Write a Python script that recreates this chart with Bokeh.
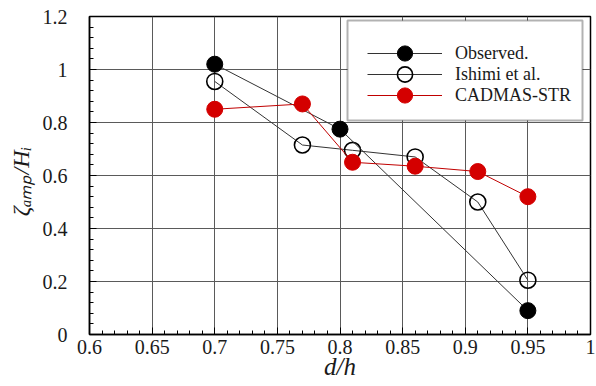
from bokeh.plotting import figure
from bokeh.models import FixedTicker, Legend, LegendItem, Range1d, BoxAnnotation
from bokeh.embed import file_html
from bokeh.resources import INLINE
import numpy as np

# ---- data ----
obs_x = [0.70, 0.80, 0.95]
obs_y = [1.02, 0.775, 0.09]

ishimi_x = [0.70, 0.77, 0.81, 0.86, 0.91, 0.95]
ishimi_y = [0.955, 0.715, 0.695, 0.67, 0.50, 0.205]

cadmas_x = [0.70, 0.77, 0.81, 0.86, 0.91, 0.95]
cadmas_y = [0.85, 0.87, 0.65, 0.635, 0.615, 0.52]

x_ticks = [0.6, 0.65, 0.7, 0.75, 0.8, 0.85, 0.9, 0.95, 1.0]
x_tick_labels = ["0.6", "0.65", "0.7", "0.75", "0.8", "0.85", "0.9", "0.95", "1"]
y_ticks = [0.0, 0.2, 0.4, 0.6, 0.8, 1.0, 1.2]
y_tick_labels = ["0", "0.2", "0.4", "0.6", "0.8", "1", "1.2"]

series_names = ["Observed.", "Ishimi et al.", "CADMAS-STR"]
x_title = "d/h"
y_title = "\u03b6\u2090\u2098\u209a/H\u1d62\u00a0\u00a0"

FONT = "Liberation Serif"
RED = "#d40000"

p = figure(width=596, height=386, output_backend="svg", toolbar_location=None,
           x_range=Range1d(0.6, 1.0), y_range=Range1d(0.0, 1.2),
           min_border_left=89, min_border_right=6, min_border_top=16,
           min_border_bottom=52)
p.background_fill_color = "white"
p.border_fill_color = "white"
p.outline_line_color = "black"
p.outline_line_width = 1.5

x_minor = [round(v, 2) for v in np.arange(0.6, 1.0001, 0.01)]
y_minor = [round(v, 2) for v in np.arange(0.0, 1.2001, 0.04)]
p.xaxis.ticker = FixedTicker(ticks=x_ticks, minor_ticks=x_minor)
p.yaxis.ticker = FixedTicker(ticks=y_ticks, minor_ticks=y_minor)
p.xaxis.major_label_overrides = {t: l for t, l in zip(x_ticks, x_tick_labels)}
p.yaxis.major_label_overrides = {t: l for t, l in zip(y_ticks, y_tick_labels)}

for ax in (p.xaxis[0], p.yaxis[0]):
    ax.major_tick_in = 7
    ax.major_tick_out = 0
    ax.minor_tick_in = 4
    ax.minor_tick_out = 0
    ax.axis_line_color = "black"
    ax.axis_line_width = 1.5
    ax.major_tick_line_color = "black"
    ax.minor_tick_line_color = "black"
    ax.major_label_text_font = FONT
    ax.major_label_text_font_size = "20px"
    ax.major_label_text_color = "#1a1a1a"
    ax.axis_label_text_font = FONT
    ax.axis_label_text_font_style = "italic"
    ax.axis_label_text_color = "#1a1a1a"

p.xaxis[0].major_label_standoff = 5
p.yaxis[0].major_label_standoff = 22
p.xaxis[0].axis_label = x_title
p.xaxis[0].axis_label_text_font_size = "25px"
p.xaxis[0].axis_label_standoff = -4
p.yaxis[0].axis_label = y_title
p.yaxis[0].axis_label_text_font_size = "24px"
p.yaxis[0].axis_label_standoff = 6

p.xgrid.ticker = FixedTicker(ticks=x_ticks)
p.ygrid.ticker = FixedTicker(ticks=y_ticks)
for g in (p.xgrid[0], p.ygrid[0]):
    g.grid_line_color = "#5a5a5a"
    g.grid_line_width = 1

# ---- series ----
ish_line = p.line(ishimi_x, ishimi_y, line_color="#333333", line_width=1)
ish_pts = p.scatter(ishimi_x, ishimi_y, size=16, fill_color=None,
                    line_color="black", line_width=1.6)

obs_line = p.line(obs_x, obs_y, line_color="#333333", line_width=1)
obs_pts = p.scatter(obs_x, obs_y, size=16, fill_color="black",
                    line_color="black")

cad_line = p.line(cadmas_x, cadmas_y, line_color="#c00000", line_width=1)
cad_pts = p.scatter(cadmas_x, cadmas_y, size=16, fill_color=RED,
                    line_color=RED)

# ---- legend: framed box + one row per series ----
legend_box = BoxAnnotation(left=258, right=493, top=314, bottom=214,
                           left_units="screen", right_units="screen",
                           top_units="screen", bottom_units="screen",
                           fill_color="white", fill_alpha=1.0,
                           line_color="black", line_width=2)
p.add_layout(legend_box)

row_renderers = [[obs_line, obs_pts], [ish_line, ish_pts], [cad_line, cad_pts]]
row_bottoms = [262, 241, 220]
for name, rends, yb in zip(series_names, row_renderers, row_bottoms):
    lg = Legend(items=[LegendItem(label=name, renderers=rends)],
                location=(278, yb))
    lg.glyph_width = 75
    lg.glyph_height = 38
    lg.label_height = 20
    lg.label_standoff = 13
    lg.padding = 0
    lg.spacing = 0
    lg.margin = 0
    lg.label_text_font = FONT
    lg.label_text_font_size = "18px"
    lg.label_text_color = "#1a1a1a"
    lg.border_line_color = None
    lg.background_fill_alpha = 0.0
    p.add_layout(lg)

open("out.html", "w").write(file_html(p, INLINE))
